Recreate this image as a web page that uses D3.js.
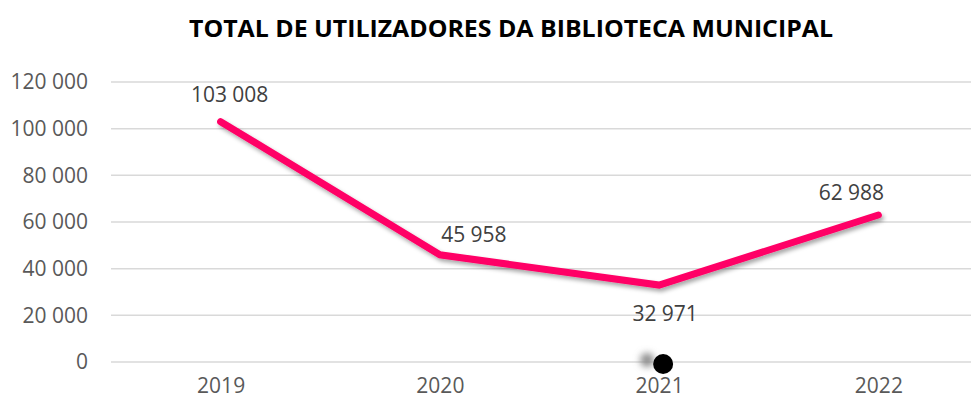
<!DOCTYPE html>
<html>
<head>
<meta charset="utf-8">
<script src="https://cdn.jsdelivr.net/npm/d3@7"></script>
<style>
  body { margin: 0; background: #fff; }
  svg { display: block; font-family: "Open Sans", "Liberation Sans", sans-serif; }
</style>
</head>
<body>
<svg id="chart" width="971" height="402"></svg>
<script>
const years = ["2019", "2020", "2021", "2022"];
const users = [103008, 45958, 32971, 62988];
const yTicks = [0, 20000, 40000, 60000, 80000, 100000, 120000];
const title = "TOTAL DE UTILIZADORES DA BIBLIOTECA MUNICIPAL";
// label placement relative to each point (Excel labels were dragged by hand)
const labelOffsets = [[9, -20], [34, -13], [6, 36], [-27, -15]];

const width = 971, height = 402;
const margin = { top: 82, right: -17, bottom: 40, left: 111 };
const fmt = n => d3.format(",")(n).replace(/,/g, " ");

const svg = d3.select("#chart");

const defs = svg.append("defs");
const shadow = defs.append("filter").attr("id", "shadow")
  .attr("x", "-10%").attr("y", "-10%").attr("width", "130%").attr("height", "150%");
shadow.append("feDropShadow")
  .attr("dx", 2).attr("dy", 3).attr("stdDeviation", 2)
  .attr("flood-color", "#000").attr("flood-opacity", 0.35);
const blur = defs.append("filter").attr("id", "blur")
  .attr("x", "-150%").attr("y", "-150%").attr("width", "400%").attr("height", "400%");
blur.append("feGaussianBlur").attr("stdDeviation", 3.5);

const x = d3.scalePoint()
  .domain(years)
  .range([margin.left, width - margin.right])
  .padding(0.5);

const y = d3.scaleLinear()
  .domain([0, 120000])
  .range([height - margin.bottom, margin.top]);

svg.append("text")
  .attr("x", 511)
  .attr("y", 37)
  .attr("text-anchor", "middle")
  .attr("font-size", "23px")
  .attr("font-weight", "bold")
  .attr("fill", "#000")
  .attr("textLength", 644)
  .attr("lengthAdjust", "spacingAndGlyphs")
  .text(title);

// gridlines
svg.append("g")
  .selectAll("line")
  .data(yTicks)
  .join("line")
  .attr("x1", margin.left)
  .attr("x2", width)
  .attr("y1", d => y(d))
  .attr("y2", d => y(d))
  .attr("stroke", "#d9d9d9")
  .attr("stroke-width", 1.5);

// y axis labels
const yAxis = svg.append("g")
  .attr("transform", `translate(88,0)`)
  .call(d3.axisLeft(y).tickValues(yTicks).tickFormat(fmt).tickSize(0).tickPadding(0));
yAxis.select(".domain").remove();
yAxis.selectAll("text")
  .attr("font-family", "Open Sans, Liberation Sans, sans-serif")
  .attr("font-size", "21px")
  .attr("fill", "#595959");

// x axis labels
const xAxis = svg.append("g")
  .attr("transform", `translate(0,${height - margin.bottom})`)
  .call(d3.axisBottom(x).tickSize(0).tickPadding(16));
xAxis.select(".domain").remove();
xAxis.selectAll("text")
  .attr("font-family", "Open Sans, Liberation Sans, sans-serif")
  .attr("font-size", "21px")
  .attr("fill", "#595959");

// series line
const line = d3.line()
  .x((d, i) => x(years[i]))
  .y(d => y(d));

svg.append("path")
  .datum(users)
  .attr("d", line)
  .attr("fill", "none")
  .attr("stroke", "#ff0066")
  .attr("stroke-width", 7)
  .attr("stroke-linecap", "round")
  .attr("stroke-linejoin", "miter")
  .attr("filter", "url(#shadow)");

// data labels
svg.append("g")
  .selectAll("text")
  .data(users)
  .join("text")
  .attr("x", (d, i) => x(years[i]) + labelOffsets[i][0])
  .attr("y", (d, i) => y(d) + labelOffsets[i][1])
  .attr("text-anchor", "middle")
  .attr("font-size", "21px")
  .attr("fill", "#404040")
  .text(fmt);

// stray marker near the 2021 axis label
svg.append("circle")
  .attr("cx", x("2021") - 12)
  .attr("cy", y(0) - 2)
  .attr("r", 7)
  .attr("fill", "#8c8c8c")
  .attr("filter", "url(#blur)");
svg.append("circle")
  .attr("cx", x("2021") + 4)
  .attr("cy", y(0) + 2)
  .attr("r", 10)
  .attr("fill", "#000");
</script>
</body>
</html>
